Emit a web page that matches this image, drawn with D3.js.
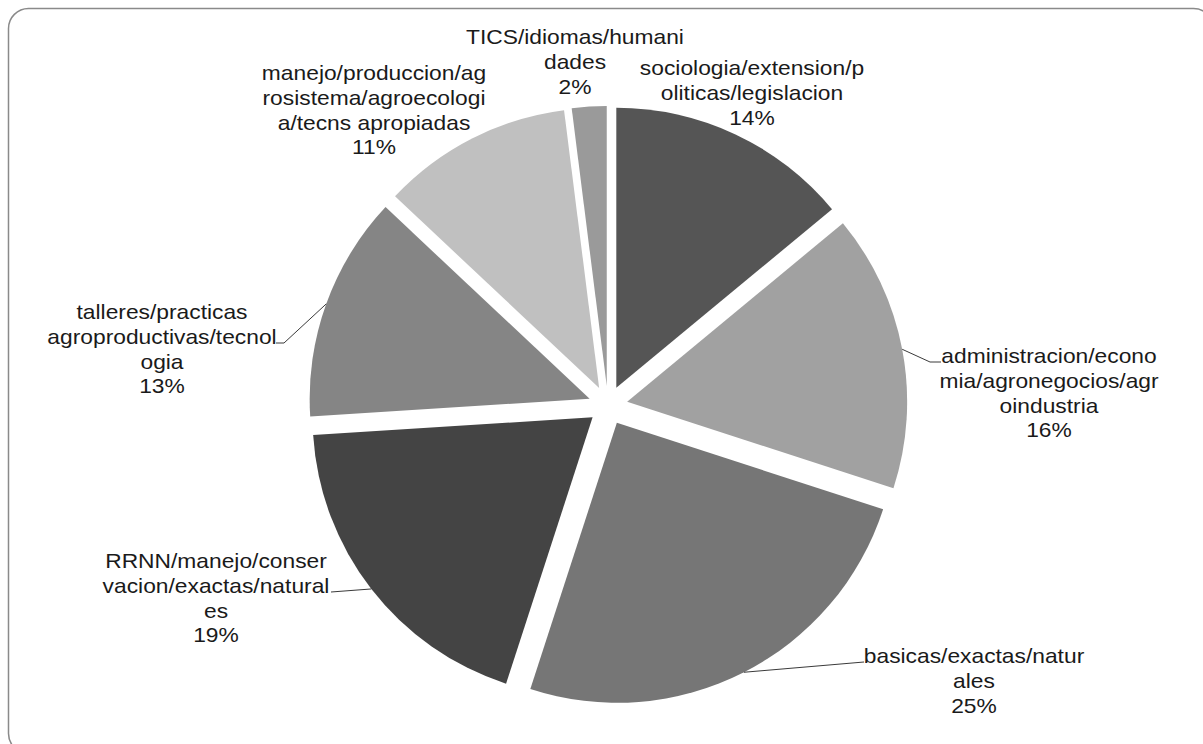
<!DOCTYPE html>
<html>
<head>
<meta charset="utf-8">
<script src="https://cdn.jsdelivr.net/npm/d3@7"></script>
<style>
  html, body { margin: 0; padding: 0; background: #ffffff; }
  svg { display: block; }
  text { font-family: "Liberation Sans", Arial, sans-serif; fill: #1a1a1a; }
</style>
</head>
<body>
<svg id="chart" width="1203" height="744"></svg>
<script>
// ---- data ----
const categories = [
  "sociologia/extension/politicas/legislacion",
  "administracion/economia/agronegocios/agroindustria",
  "basicas/exactas/naturales",
  "RRNN/manejo/conservacion/exactas/naturales",
  "talleres/practicas agroproductivas/tecnologia",
  "manejo/produccion/agrosistema/agroecologia/tecns apropiadas",
  "TICS/idiomas/humanidades"
];
const values = [14, 16, 25, 19, 13, 11, 2];
// label text as wrapped in the original
const labelLines = [
  ["sociologia/extension/p", "oliticas/legislacion"],
  ["administracion/econo", "mia/agronegocios/agr", "oindustria"],
  ["basicas/exactas/natur", "ales"],
  ["RRNN/manejo/conser", "vacion/exactas/natural", "es"],
  ["talleres/practicas", "agroproductivas/tecnol", "ogia"],
  ["manejo/produccion/ag", "rosistema/agroecologi", "a/tecns apropiadas"],
  ["TICS/idiomas/humani", "dades"]
];
const colors = ["#555555", "#a1a1a1", "#767676", "#444444", "#858585", "#c0c0c0", "#9a9a9a"];

// ---- layout ----
const W = 1203, H = 744;
const cx = 608, cy = 405.4, R = 280, explode = 19.5;
const fontSize = 20, stretch = 1.14, lineH = 24.8;
// label anchor (centre x, first baseline y) and leader-line points
const labelPos = [
  { x: 752, y: 75 },
  { x: 1049, y: 363, leader: [[930, 362], [941, 362]] },
  { x: 974, y: 663, leader: [[864, 662]] },
  { x: 216, y: 568, leader: [[331, 592]] },
  { x: 162, y: 319, leader: [[284, 343], [276, 343]] },
  { x: 374, y: 80 },
  { x: 575, y: 44 }
];

const svg = d3.select("#chart");

// outer rounded border
svg.append("rect")
  .attr("x", 8.5).attr("y", 8.5)
  .attr("width", 1205).attr("height", 745)
  .attr("rx", 20).attr("ry", 20)
  .attr("fill", "#ffffff")
  .attr("stroke", "#8a8a8a")
  .attr("stroke-width", 1.5);

const total = d3.sum(values);
const pie = d3.pie().sort(null).value(d => d)(values);
const arc = d3.arc().innerRadius(0).outerRadius(R);

const g = svg.append("g").attr("transform", `translate(${cx},${cy})`);

pie.forEach((p, i) => {
  const mid = (p.startAngle + p.endAngle) / 2;
  const ox = explode * Math.sin(mid), oy = -explode * Math.cos(mid);
  g.append("path")
    .attr("d", arc(p))
    .attr("transform", `translate(${ox},${oy})`)
    .attr("fill", colors[i]);
});

// leader lines
const lineGen = d3.line();
pie.forEach((p, i) => {
  const lp = labelPos[i];
  if (!lp.leader) return;
  const mid = (p.startAngle + p.endAngle) / 2;
  const sx = cx + (explode + R) * Math.sin(mid);
  const sy = cy - (explode + R) * Math.cos(mid);
  const pts = [[sx, sy]].concat(lp.leader);
  svg.append("path")
    .attr("d", lineGen(pts))
    .attr("fill", "none")
    .attr("stroke", "#3a3a3a")
    .attr("stroke-width", 1);
});

// labels
pie.forEach((p, i) => {
  const lp = labelPos[i];
  const lines = labelLines[i].concat([Math.round(values[i] / total * 100) + "%"]);
  const lg = svg.append("g");
  lines.forEach((t, k) => {
    lg.append("text")
      .attr("transform", `translate(${lp.x},${lp.y + k * lineH}) scale(${stretch},1)`)
      .attr("text-anchor", "middle")
      .attr("font-size", fontSize)
      .text(t);
  });
});
</script>
</body>
</html>
